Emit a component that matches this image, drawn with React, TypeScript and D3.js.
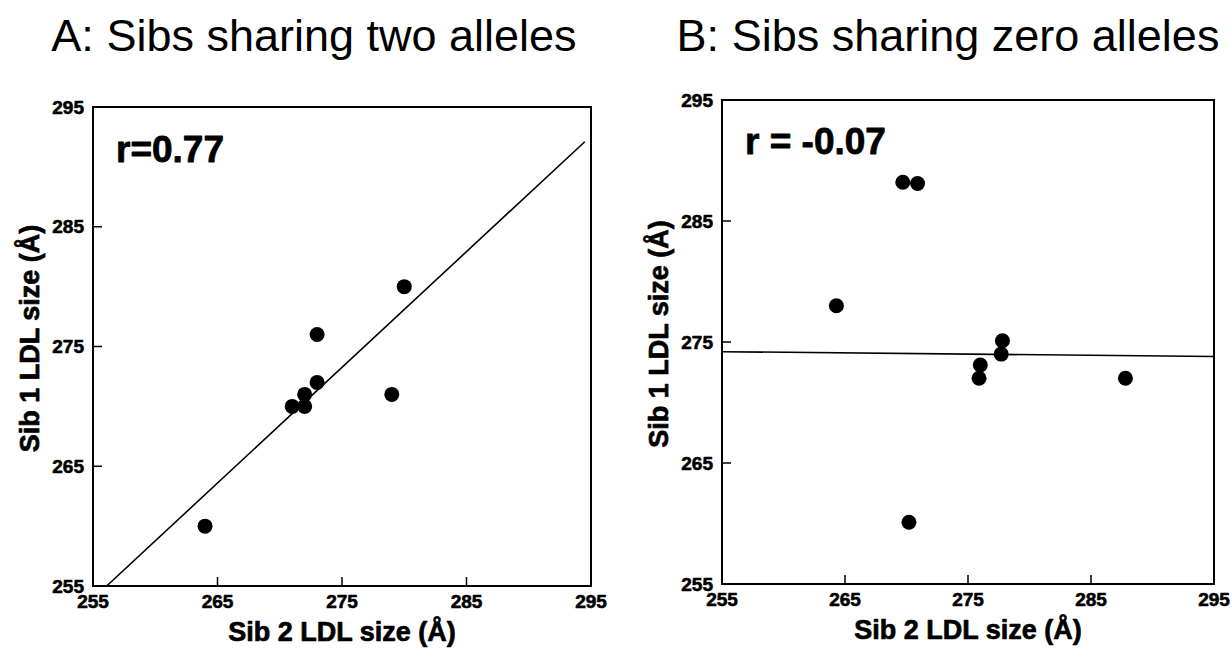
import React from "react";
import * as d3 from "d3";

// Axis ticks shared by both panels (LDL size in Å)
const xTicks = [255, 265, 275, 285, 295];
const yTicks = [255, 265, 275, 285, 295];

// Panel A: sibs sharing two alleles
const sibAx = [264, 271, 272, 272, 273, 273, 279, 280];
const sibAy = [260, 270, 270, 271, 272, 276, 271, 280];
const fitAx = [256.1, 294.5];
const fitAy = [255, 292.1];

// Panel B: sibs sharing zero alleles
const sibBx = [269.7, 270.9, 264.3, 277.8, 277.7, 276.0, 275.9, 287.8, 270.2];
const sibBy = [288.2, 288.1, 278.0, 275.1, 274.0, 273.1, 272.0, 272.0, 260.1];
const fitBx = [255, 295];
const fitBy = [274.2, 273.8];

const titles = ["A: Sibs sharing two alleles", "B: Sibs sharing zero alleles"];
const rLabels = ["r=0.77", "r = -0.07"];
const xTitle = "Sib 2 LDL size (Å)";
const yTitle = "Sib 1 LDL size (Å)";

const FONT = "'Liberation Sans', Arial, Helvetica, sans-serif";

// heavy look of the scanned bold labels
const heavy = { fontWeight: "bold" as const, fontFamily: FONT, stroke: "#000", strokeLinejoin: "round" as const };

interface PanelProps {
  xs: number[];
  ys: number[];
  fx: number[];
  fy: number[];
  title: string;
  rLabel: string;
  box: { left: number; right: number; top: number; bottom: number };
  titleX: number;
  rTop: number;
}

function Panel({ xs, ys, fx, fy, title, rLabel, box, titleX, rTop }: PanelProps) {
  const x = d3.scaleLinear().domain([255, 295]).range([box.left, box.right]);
  const y = d3.scaleLinear().domain([255, 295]).range([box.bottom, box.top]);

  const line = d3
    .line<number>()
    .x((d) => x(d))
    .y((_, i) => y(fy[i]));

  const tickLen = 9;
  const midX = (box.left + box.right) / 2;
  const midY = (box.top + box.bottom) / 2 - 8;

  return (
    <g>
      <text x={titleX} y={51} textAnchor="middle" fontSize={45} fontFamily={FONT} fill="#000">
        {title}
      </text>

      {/* frame */}
      <rect
        x={box.left}
        y={box.top}
        width={box.right - box.left}
        height={box.bottom - box.top}
        fill="none"
        stroke="#000"
        strokeWidth={2}
      />

      {/* x ticks (inward) */}
      {xTicks.map((t) => (
        <g key={`x${t}`}>
          {t > 255 && t < 295 && (
            <line x1={x(t)} x2={x(t)} y1={box.bottom} y2={box.bottom - tickLen} stroke="#000" strokeWidth={1.5} />
          )}
          <text x={x(t)} y={box.bottom + 22} textAnchor="middle" fontSize={19} strokeWidth={0.6} {...heavy}>
            {t}
          </text>
        </g>
      ))}

      {/* y ticks (inward) */}
      {yTicks.map((t) => (
        <g key={`y${t}`}>
          {t > 255 && t < 295 && (
            <line x1={box.left} x2={box.left + tickLen} y1={y(t)} y2={y(t)} stroke="#000" strokeWidth={1.5} />
          )}
          <text x={box.left - 9} y={y(t)} dy="0.35em" textAnchor="end" fontSize={19} strokeWidth={0.6} {...heavy}>
            {t}
          </text>
        </g>
      ))}

      {/* axis titles */}
      <text x={midX} y={box.bottom + 55} textAnchor="middle" fontSize={27} strokeWidth={0.7} {...heavy}>
        {xTitle}
      </text>
      <text
        transform={`translate(${box.left - 54},${midY}) rotate(-90)`}
        textAnchor="middle"
        fontSize={27}
        strokeWidth={0.7}
        {...heavy}
      >
        {yTitle}
      </text>

      {/* correlation label */}
      <text x={box.left + 23} y={rTop} fontSize={37} strokeWidth={0.8} {...heavy}>
        {rLabel}
      </text>

      {/* fitted line */}
      <path d={line(fx) || ""} fill="none" stroke="#000" strokeWidth={1.6} />

      {/* points */}
      {xs.map((d, i) => (
        <circle key={i} cx={x(d)} cy={y(ys[i])} r={7.5} fill="#000" />
      ))}
    </g>
  );
}

export default function App() {
  return (
    <svg width={1232} height={653} style={{ position: "absolute", left: 0, top: 0, background: "#fff" }}>
      <rect width={1232} height={653} fill="#fff" />
      <Panel
        xs={sibAx}
        ys={sibAy}
        fx={fitAx}
        fy={fitAy}
        title={titles[0]}
        rLabel={rLabels[0]}
        box={{ left: 93, right: 591, top: 107, bottom: 586 }}
        titleX={314}
        rTop={162}
      />
      <Panel
        xs={sibBx}
        ys={sibBy}
        fx={fitBx}
        fy={fitBy}
        title={titles[1]}
        rLabel={rLabels[1]}
        box={{ left: 722, right: 1214, top: 100, bottom: 584 }}
        titleX={948}
        rTop={154}
      />
    </svg>
  );
}
